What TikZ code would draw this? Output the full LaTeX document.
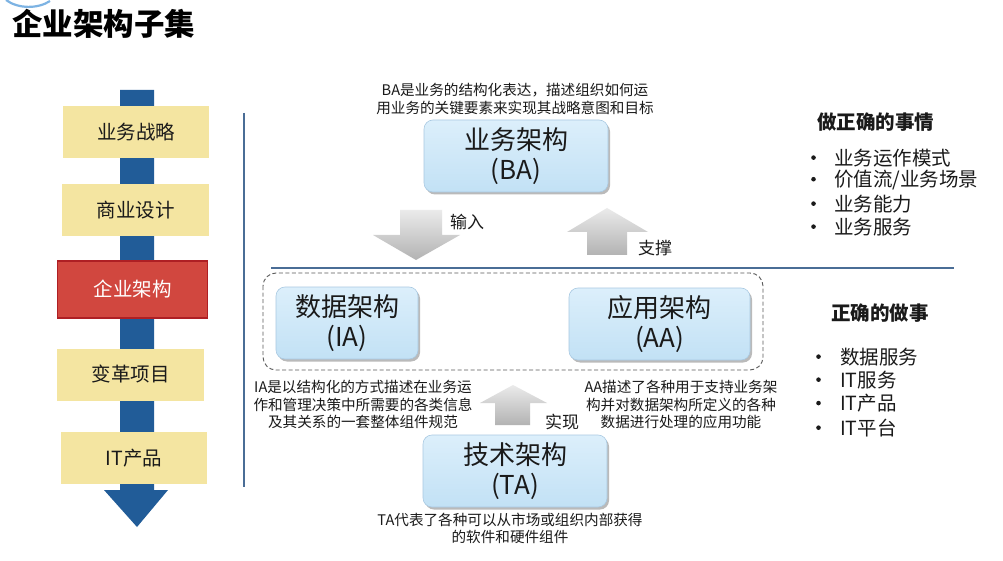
\documentclass[tikz,border=0pt]{standalone}
\usepackage{fontspec}
\setmainfont{Noto Sans CJK SC}
\usetikzlibrary{shadows}
\definecolor{barblue}{HTML}{215C98}
\definecolor{yel}{HTML}{F4E5A1}
\definecolor{redf}{HTML}{D1473F}
\definecolor{redd}{HTML}{AE1F24}
\definecolor{lbtop}{HTML}{DCEFFB}
\definecolor{lbbot}{HTML}{C2E1F5}
\definecolor{lbdraw}{HTML}{A9C9E2}
\definecolor{linec}{HTML}{4A6D96}
\definecolor{txt}{HTML}{1A1A1A}
\definecolor{swoosh}{HTML}{7DB3E3}
\newcommand{\mybul}[1]{\makebox[#1][l]{\raisebox{0.28em}{\tikz\fill[txt] (0pt,0pt) circle (2.3pt);}}}
\tikzset{
  ybox/.style={fill=yel, minimum height=52pt, inner sep=0pt, text=txt,
    font=\fontsize{19.5}{22}\selectfont},
  rbox/.style={fill=redf, draw=redd, line width=1.2pt, minimum height=57pt, inner sep=0pt,
    text=white, font=\fontsize{19.5}{22}\selectfont},
  bigbox/.style={rounded corners=9pt, top color=lbtop, bottom color=lbbot, draw=lbdraw, line width=0.6pt,
    minimum height=72pt, inner sep=0pt, align=center, text=txt,
    font=\fontsize{26}{30}\selectfont,
    drop shadow={shadow xshift=2pt, shadow yshift=-2.5pt, opacity=0.45, fill=black!60}},
  desc/.style={align=center, inner sep=0pt, text=txt, font=\fontsize{14.6}{17.5}\selectfont},
  lbl/.style={anchor=west, inner sep=0pt, text=txt, font=\fontsize{17}{20}\selectfont},
  grayarrow/.style={top color=black!8, bottom color=black!30, draw=none},
  head/.style={anchor=west, inner sep=0pt, text=txt, font=\bfseries\fontsize{19.5}{22}\selectfont},
  item/.style={anchor=west, inner sep=0pt, text=txt, font=\fontsize{19.5}{22}\selectfont},
}
\begin{document}
\begin{tikzpicture}[x=1pt,y=-1pt]
\useasboundingbox[fill=white] (0,0) rectangle (1003,561);
% swoosh
\draw[swoosh, line width=2.2pt] (6,0) .. controls (18,9) and (38,9) .. (50,1);
% title
\node[anchor=west, inner sep=0pt, font=\bfseries\fontsize{30.5}{34}\selectfont] (title) at (12,24) {企业架构子集};
% left column bar + arrow
\fill[barblue] (120,90) -- (154,90) -- (154,490) -- (168,490) -- (137,527) -- (104,490) -- (120,490) -- cycle;
\node[ybox, minimum width=146pt] (s1) at (136,132) {业务战略};
\node[ybox, minimum width=147pt] (s2) at (135.5,210) {商业设计};
\node[rbox, minimum width=150pt] (s3) at (132.5,289.5) {企业架构};
\node[ybox, minimum width=147pt] (s4) at (130.5,374.5) {变革项目};
\node[ybox, minimum width=146pt] (s5) at (134,458) {IT产品};
% separator lines
\draw[linec, line width=1.6pt] (244,113) -- (244,487);
\draw[linec, line width=1.6pt] (271,268) -- (954,268);
% dashed group
\draw[black!65, line width=0.9pt, dash pattern=on 4pt off 2.5pt, rounded corners=13pt] (263,273) rectangle (763,370);
% architecture boxes
\node[bigbox, minimum width=184pt] (ba) at (516,156) {业务架构\\(BA)};
\node[bigbox, minimum width=142pt] (ia) at (347,323) {数据架构\\(IA)};
\node[bigbox, minimum width=181pt] (aa) at (659.5,324) {应用架构\\(AA)};
\node[bigbox, minimum width=184pt] (ta) at (515,471) {技术架构\\(TA)};
% descriptions
\node[desc] (bad) at (515,99) {BA是业务的结构化表达，描述组织如何运\\用业务的关键要素来实现其战略意图和目标};
\node[desc] (iad) at (363,404.5) {IA是以结构化的方式描述在业务运\\作和管理决策中所需要的各类信息\\及其关系的一套整体组件规范};
\node[desc] (aad) at (681,404.5) {AA描述了各种用于支持业务架\\构并对数据架构所定义的各种\\数据进行处理的应用功能};
\node[desc] (tad) at (510,528.5) {TA代表了各种可以从市场或组织内部获得\\的软件和硬件组件};
% block arrows
\path[grayarrow] (400,210) -- (442,210) -- (442,235) -- (460,235) -- (416,260) -- (373,235) -- (400,235) -- cycle;
\path[grayarrow] (587,255) -- (587,232) -- (567,232) -- (607,208) -- (648,232) -- (627,232) -- (627,255) -- cycle;
\path[grayarrow] (495,425) -- (495,403) -- (480,403) -- (513,385) -- (547,403) -- (530,403) -- (530,425) -- cycle;
\node[lbl] (l1) at (450,222) {输入};
\node[lbl] (l2) at (638,248) {支撑};
\node[lbl] (l3) at (545,422) {实现};
% right lists
\node[head] (h1) at (817,122) {做正确的事情};
\node[item] (i1) at (811,158) {\mybul{23pt}业务运作模式};
\node[item] (i2) at (811,180.5) {\mybul{23pt}价值流/业务场景};
\node[item] (i3) at (811,204) {\mybul{23pt}业务能力};
\node[item] (i4) at (811,227) {\mybul{23pt}业务服务};
\node[head] (h2) at (831,313) {正确的做事};
\node[item] (j1) at (816,357) {\mybul{24pt}数据服务};
\node[item] (j2) at (816,380) {\mybul{24pt}IT服务};
\node[item] (j3) at (816,403.5) {\mybul{24pt}IT产品};
\node[item] (j4) at (816,428) {\mybul{24pt}IT平台};
\end{tikzpicture}
\end{document}
